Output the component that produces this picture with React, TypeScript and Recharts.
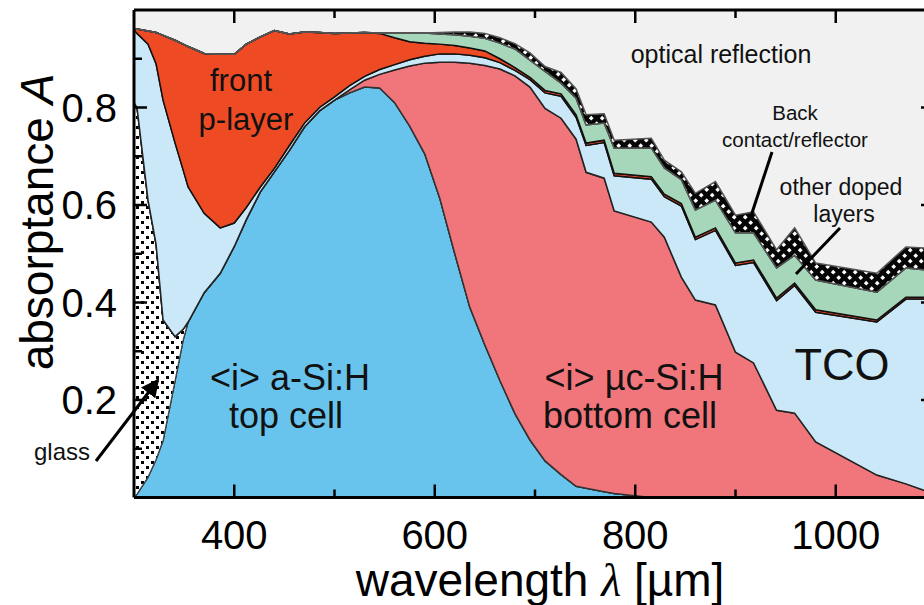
import { ComposedChart, Area, XAxis, YAxis, ReferenceLine } from 'recharts';

// wavelength grid in nm
const wavelength = [
  300, 303, 314, 322, 329, 341, 349, 354, 370, 386, 400, 412, 426, 440, 455, 470, 485, 500,
  515, 530, 545, 560, 575, 590, 605, 620, 635, 650, 665, 680, 695, 710, 726, 741, 751, 769,
  779, 816, 829, 846, 860, 880, 900, 918, 941, 959, 980, 1041, 1070, 1088, 1098,
];

// cumulative absorptance at the upper edge of each layer (null / missing = layer absent)
const aSiTop = [
  0, 0.007, 0.042, 0.078, 0.117, 0.24, 0.323, 0.36, 0.42, 0.46, 0.515, 0.57, 0.627, 0.668, 0.712, 0.76, 0.793, 0.815,
  0.83, 0.842, 0.84, 0.81, 0.762, 0.705, 0.614, 0.5, 0.39, 0.313, 0.24, 0.172, 0.118, 0.075, 0.047, 0.023, 0.019, 0.012,
  0.008, 0, 0, 0, 0, 0, 0, 0, 0, 0, 0, 0, 0, 0, 0,
];
const glassTop = [0.81, 0.8, 0.61, 0.52, 0.364, 0.33, 0.345, 0.36];
const ucSiTop = [
  null, null, null, null, null, null, null, null, null, null, null, null, null, null, null, null, null, null,
  0.836, 0.856, 0.868, 0.877, 0.885, 0.891, 0.893, 0.893, 0.891, 0.886, 0.879, 0.865, 0.842, 0.798, 0.778, 0.735, 0.667, 0.655,
  0.588, 0.565, 0.534, 0.452, 0.405, 0.395, 0.298, 0.276, 0.179, 0.173, 0.114, 0.046, 0.028, 0.015, 0.012,
];
const tcoTop = [
  0.959, 0.952, 0.93, 0.89, 0.815, 0.727, 0.672, 0.637, 0.583, 0.553, 0.563, 0.595, 0.637, 0.675, 0.722, 0.768, 0.8, 0.822,
  0.845, 0.864, 0.878, 0.888, 0.898, 0.905, 0.91, 0.91, 0.907, 0.902, 0.892, 0.876, 0.857, 0.83, 0.823, 0.78, 0.722, 0.728,
  0.66, 0.653, 0.617, 0.598, 0.529, 0.548, 0.476, 0.482, 0.404, 0.435, 0.38, 0.36, 0.407, 0.407, 0.407,
];
const pLayerTop = [
  0.961, 0.961, 0.957, 0.954, 0.948, 0.938, 0.93, 0.925, 0.911, 0.909, 0.909, 0.93, 0.945, 0.958, 0.951, 0.955, 0.954, 0.952,
  0.953, 0.954, 0.952, 0.943, 0.935, 0.932, 0.93, 0.927, 0.922, 0.916, 0.9, 0.882, 0.862, 0.835, 0.828, 0.785, 0.727, 0.733,
  0.665, 0.658, 0.622, 0.603, 0.534, 0.553, 0.481, 0.487, 0.409, 0.44, 0.385, 0.364, 0.411, 0.411, 0.411,
];
const dopedTop = [
  null, null, null, null, null, null, null, null, null, null, null, null, null, null, null, null, null, null,
  null, null, 0.953, 0.953, 0.953, 0.953, 0.951, 0.949, 0.946, 0.942, 0.932, 0.92, 0.897, 0.874, 0.85, 0.819, 0.764, 0.768,
  0.717, 0.717, 0.676, 0.652, 0.59, 0.61, 0.543, 0.543, 0.471, 0.497, 0.446, 0.421, 0.471, 0.467, 0.467,
];
const backTop = [
  null, null, null, null, null, null, null, null, null, null, null, null, null, null, null, null, null, null,
  null, null, null, null, null, null, 0.954, 0.955, 0.955, 0.952, 0.943, 0.931, 0.912, 0.884, 0.872, 0.838, 0.785, 0.787,
  0.733, 0.737, 0.692, 0.668, 0.624, 0.648, 0.579, 0.586, 0.508, 0.553, 0.481, 0.46, 0.514, 0.512, 0.512,
];

const xTicks = [400, 500, 600, 700, 800, 900, 1000];
const yTicks = [0.1, 0.2, 0.3, 0.4, 0.5, 0.6, 0.7, 0.8, 0.9];

const rows = wavelength.map((wl, i) => {
  const a = aSiTop[i];
  const g = glassTop[i] ?? a;
  const u = ucSiTop[i] ?? g;
  const t = tcoTop[i];
  const p = pLayerTop[i];
  const d = dopedTop[i] ?? p;
  const b = backTop[i] ?? d;
  return {
    wl,
    aSi: [0, a],
    glass: [a, g],
    ucSi: [g, u],
    tco: [u, t],
    pLayer: [t, p],
    doped: [p, d],
    back: [d, b],
    refl: [b, 1],
  };
});

const PLOT_LEFT = 134;
const PLOT_RIGHT = 934;
const PLOT_TOP = 10;
const PLOT_BOTTOM = 497.5;
const FONT = '"Liberation Sans", Arial, Helvetica, sans-serif';

function XTick({ x, payload }: any) {
  const major = payload.value % 200 === 0;
  const len = major ? 13 : 8;
  return (
    <g>
      <line x1={x} x2={x} y1={PLOT_BOTTOM} y2={PLOT_BOTTOM - len} stroke="#000" strokeWidth={2.5} />
      <line x1={x} x2={x} y1={PLOT_TOP} y2={PLOT_TOP + len} stroke="#000" strokeWidth={2.5} />
      {major && (
        <text x={x} y={549} textAnchor="middle" fontSize={40} fill="#000" fontFamily={FONT}>
          {payload.value}
        </text>
      )}
    </g>
  );
}

function YTick({ y, payload }: any) {
  const major = Math.round(payload.value * 10) % 2 === 0;
  const len = major ? 13 : 8;
  return (
    <g>
      <line x1={PLOT_LEFT} x2={PLOT_LEFT + len} y1={y} y2={y} stroke="#000" strokeWidth={2.5} />
      <line x1={PLOT_RIGHT} x2={PLOT_RIGHT - len} y1={y} y2={y} stroke="#000" strokeWidth={2.5} />
      {major && (
        <text x={117} y={y + 14} textAnchor="end" fontSize={40} fill="#000" fontFamily={FONT}>
          {payload.value.toFixed(1)}
        </text>
      )}
    </g>
  );
}

const XTitle = () => (
  <text x={540} y={596} textAnchor="middle" fontSize={46} fill="#000" fontFamily={FONT}>
    wavelength{' '}
    <tspan fontFamily='"Liberation Serif", serif' fontStyle="italic">
      λ
    </tspan>{' '}
    [µm]
  </text>
);

const YTitle = () => (
  <text
    x={53}
    y={222}
    transform="rotate(-90 53 222)"
    textAnchor="middle"
    fontSize={46}
    fill="#000"
    fontFamily={FONT}
  >
    absorptance <tspan fontStyle="italic">A</tspan>
  </text>
);

const labelStyle = { fontFamily: FONT, fill: '#111' };

export default function App() {
  return (
    <div
      style={{
        position: 'absolute',
        left: 0,
        top: 0,
        width: 924,
        height: 605,
        overflow: 'hidden',
        background: '#fff',
      }}
    >
      <ComposedChart width={940} height={605} data={rows} margin={{ top: 10, right: 6, bottom: 0, left: 0 }}>
        <defs>
          <pattern id="glassDots" width="10" height="10" patternUnits="userSpaceOnUse">
            <rect width="10" height="10" fill="#fff" />
            <rect x="1" y="1" width="3" height="3" fill="#000" />
            <rect x="6" y="6" width="3" height="3" fill="#000" />
          </pattern>
          <pattern id="backDots" width="11" height="11" patternUnits="userSpaceOnUse">
            <rect width="11" height="11" fill="#050505" />
            <rect x="1" y="1" width="3.4" height="3.4" fill="#fff" transform="rotate(45 2.7 2.7)" />
            <rect x="6.5" y="6.5" width="3.4" height="3.4" fill="#fff" transform="rotate(45 8.2 8.2)" />
          </pattern>
        </defs>
        <Area dataKey="refl" type="linear" fill="#f1f1f1" fillOpacity={1} stroke="none" isAnimationActive={false} />
        <Area dataKey="aSi" type="linear" fill="#69c4ed" fillOpacity={1} stroke="#111" strokeWidth={1.5} isAnimationActive={false} />
        <Area dataKey="glass" type="linear" fill="url(#glassDots)" fillOpacity={1} stroke="#444" strokeWidth={1.2} isAnimationActive={false} />
        <Area dataKey="ucSi" type="linear" fill="#f1767b" fillOpacity={1} stroke="#333" strokeWidth={1.5} isAnimationActive={false} />
        <Area dataKey="tco" type="linear" fill="#cbe8f8" fillOpacity={1} stroke="#222" strokeWidth={1.5} isAnimationActive={false} />
        <Area dataKey="pLayer" type="linear" fill="#ee4b25" fillOpacity={1} stroke="#111" strokeWidth={1.5} isAnimationActive={false} />
        <Area dataKey="doped" type="linear" fill="#a7d7bb" fillOpacity={1} stroke="#111" strokeWidth={1.5} isAnimationActive={false} />
        <Area dataKey="back" type="linear" fill="url(#backDots)" fillOpacity={1} stroke="#555" strokeWidth={1.5} isAnimationActive={false} />
        <ReferenceLine y={1} stroke="#000" strokeWidth={3} ifOverflow="visible" />
        <XAxis
          dataKey="wl"
          type="number"
          domain={[300, 1098]}
          allowDataOverflow
          ticks={xTicks}
          interval={0}
          height={107.5}
          axisLine={{ stroke: '#000', strokeWidth: 3 }}
          tickLine={false}
          tick={XTick}
          label={XTitle}
        />
        <YAxis
          type="number"
          domain={[0, 1]}
          ticks={yTicks}
          interval={0}
          width={134}
          axisLine={{ stroke: '#000', strokeWidth: 3 }}
          tickLine={false}
          tick={YTick}
          label={YTitle}
        />
      </ComposedChart>
      <svg
        width={924}
        height={605}
        style={{ position: 'absolute', left: 0, top: 0, pointerEvents: 'none' }}
      >
        <defs>
          <marker id="arrowHead" viewBox="0 0 10 10" refX="9" refY="5" markerWidth="6" markerHeight="6" orient="auto">
            <path d="M0,0 L10,5 L0,10 z" fill="#000" />
          </marker>
        </defs>
        <g style={labelStyle} textAnchor="middle">
          <text x={241} y={91} fontSize={31}>front</text>
          <text x={246} y={130} fontSize={31}>p-layer</text>
          <text x={721} y={63} fontSize={25}>optical reflection</text>
          <text x={795} y={120} fontSize={20.5}>Back</text>
          <text x={795} y={147} fontSize={20.5}>contact/reflector</text>
          <text x={841} y={195} fontSize={23}>other doped</text>
          <text x={844} y={222} fontSize={23}>layers</text>
          <text x={842} y={380} fontSize={45}>TCO</text>
          <text x={290} y={390} fontSize={36}>&lt;i&gt; a-Si:H</text>
          <text x={286} y={428} fontSize={36}>top cell</text>
          <text x={634} y={390} fontSize={36}>&lt;i&gt; µc-Si:H</text>
          <text x={630} y={428} fontSize={36}>bottom cell</text>
          <text x={62} y={460} fontSize={24}>glass</text>
        </g>
        <line x1={96} y1={461} x2={158} y2={380} stroke="#000" strokeWidth={3} markerEnd="url(#arrowHead)" />
        <line x1={772} y1={152} x2={751} y2={216} stroke="#000" strokeWidth={3} />
        <line x1={840} y1={228} x2={796} y2={274} stroke="#000" strokeWidth={3} />
      </svg>
    </div>
  );
}
